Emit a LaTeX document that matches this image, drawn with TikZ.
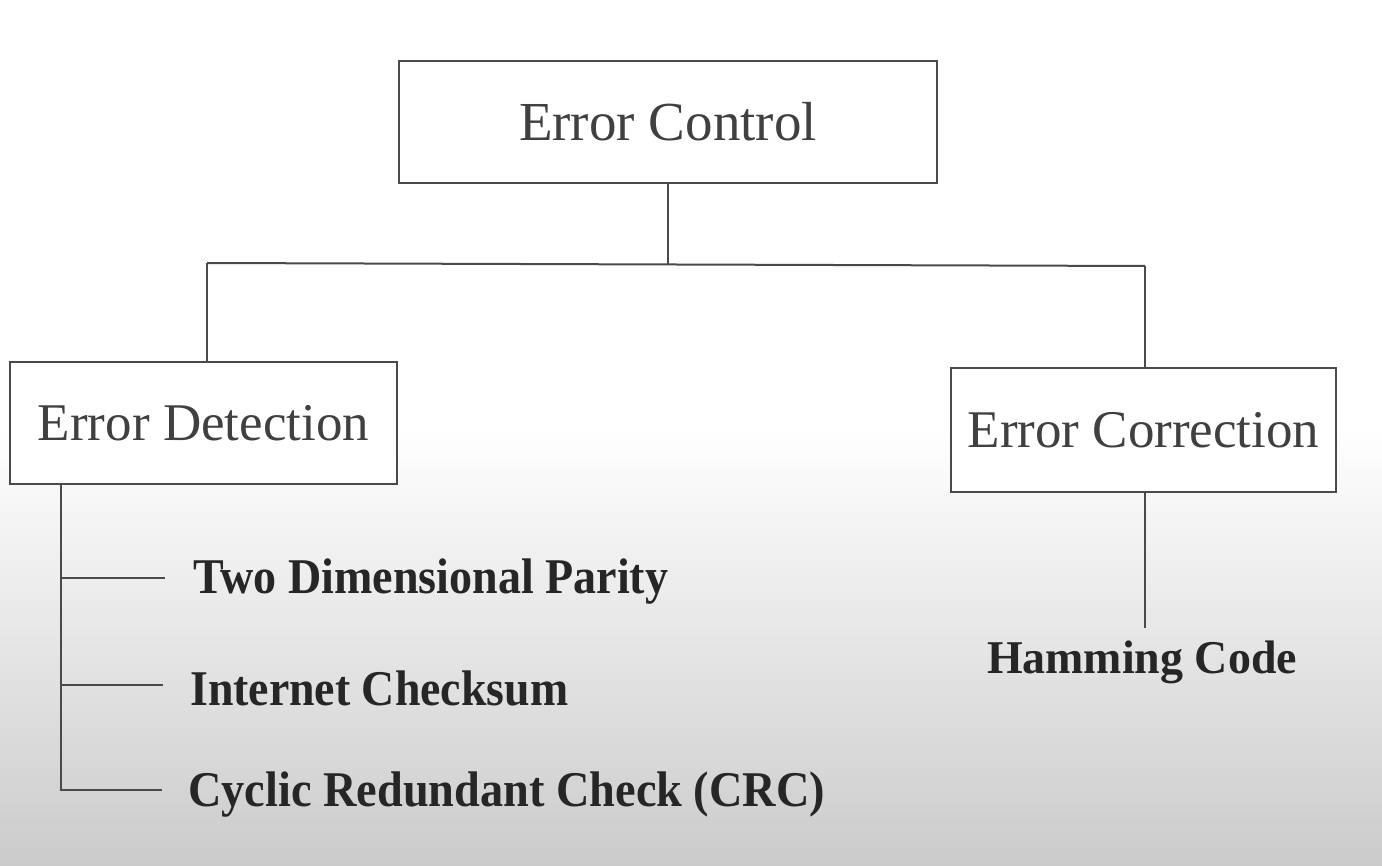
\documentclass[tikz,border=0pt]{standalone}
\usepackage{fontspec}
\setmainfont{Liberation Serif}
\usepackage{graphicx}
\newcommand\fitto[2]{\setbox0\hbox{#2}\pgfmathsetmacro\fitfac{#1/\the\wd0}\scalebox{\fitfac}[1]{\box0}}
\definecolor{ln}{HTML}{4A4A4A}
\definecolor{tx}{HTML}{404040}
\definecolor{bgbot}{HTML}{CBCBCB}
\tikzset{
  box/.style={draw=ln, line width=2.3pt, fill=white, inner sep=0pt, text=tx},
  bigtxt/.style={font=\fontsize{55}{60}\selectfont},
  midtxt/.style={font=\fontsize{53}{58}\selectfont},
  leaf/.style={text=black!85, inner sep=0pt, anchor=west, font=\bfseries\fontsize{50}{54}\selectfont},
  conn/.style={draw=ln, line width=2pt}
}
\begin{document}
\begin{tikzpicture}[x=1pt,y=-1pt]
\useasboundingbox (0,0) rectangle (1382,866);
\fill[white] (0,0) rectangle (1382,430);
\shade[top color=white, bottom color=bgbot] (0,430) rectangle (1382,866);
% boxes
\node[box, bigtxt, minimum width=538pt, minimum height=122pt] (ec) at (668,122) {\raisebox{-4pt}{Error Control}};
\node[box, midtxt, minimum width=387pt, minimum height=122pt] (ed) at (203.5,423) {\raisebox{-4pt}{Error Detection}};
\node[box, midtxt, minimum width=385pt, minimum height=124pt] (cor) at (1143.5,430) {\raisebox{-3pt}{Error Correction}};
% tree connectors
\coordinate (j) at (668,264);
\coordinate (jl) at (207,263);
\coordinate (jr) at (1145,266);
\draw[conn] (ec.south) -- (j);
\draw[conn] (jl) -- (jr);
\draw[conn] (jl) -- (jl |- ed.north);
\draw[conn] (jr) -- (jr |- cor.north);
% leaves
\node[leaf] (t1) at (193,582) {\fitto{475}{Two Dimensional Parity}};
\node[leaf] (t2) at (190,688) {\fitto{378}{Internet Checksum}};
\node[leaf] (t3) at (188,795) {\fitto{637}{Cyclic Redundant Check (CRC)}};
\coordinate (sp) at (61,484);
\coordinate (e1) at (165,578);
\coordinate (e2) at (163,685);
\coordinate (e3) at (162,790);
\draw[conn] (sp) |- (e3);
\draw[conn] (sp |- e1) -- (e1);
\draw[conn] (sp |- e2) -- (e2);
% correction leaf
\node[text=black!85, inner sep=0pt, font=\bfseries\fontsize{47}{50}\selectfont] (ham) at (1142,662) {\fitto{310}{Hamming Code}};
\coordinate (hc) at (1145,628);
\draw[conn] (cor.south -| hc) -- (hc);
\end{tikzpicture}
\end{document}
